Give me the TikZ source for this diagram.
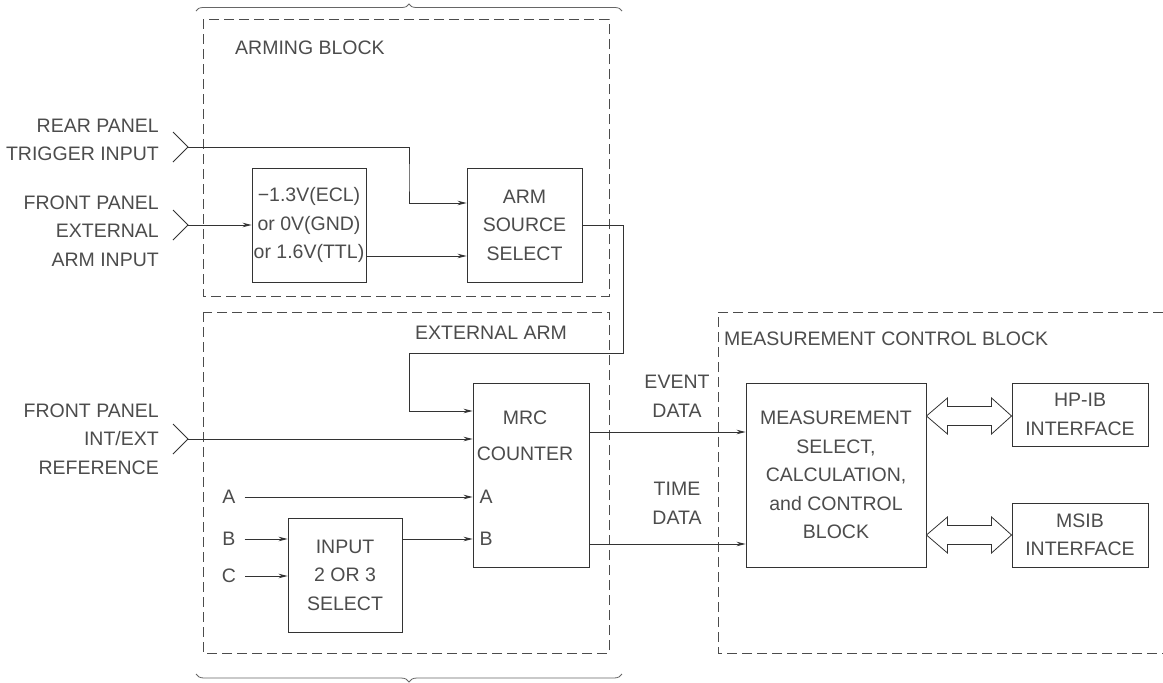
\documentclass[tikz,border=0pt]{standalone}
\usepackage{fontspec}
\setmainfont{Liberation Sans}
\usetikzlibrary{arrows.meta,calc,decorations.pathreplacing}

\tikzset{
  txtfont/.style={font=\fontsize{19.5}{28.5}\selectfont},
  blk/.style={draw=black!80, line width=0.9pt, inner sep=0pt, align=center,
              text=black!70, txtfont},
  lbl/.style={inner sep=0pt, text=black!70, txtfont},
  wire/.style={draw=black!80, line width=0.9pt},
  sig/.style={wire, -{Stealth[length=9pt,width=4.5pt]}},
  region/.style={draw=black!70, line width=0.8pt, dash pattern=on 10pt off 5pt},
  bus/.style={draw=black!80, line width=0.8pt, fill=white, line join=miter},
  bracket/.style={draw=black!60, line width=0.8pt, decorate,
                  decoration={brace, amplitude=#1}},
}

\begin{document}
\begin{tikzpicture}[x=1pt, y=-1pt]
  \useasboundingbox[fill=white] (0,0) rectangle (1163,683);

  % ---------- section outlines ----------
  \draw[region] (203,19) rectangle (609,296);
  \draw[region] (203,312) rectangle (609,653);
  \draw[region] (1163,312) -- (718,312) -- (718,653) -- (1163,653);

  \draw[bracket=7pt] (196,11) -- (622,11);
  \draw[bracket=8pt] (622,674) -- (196,674);

  \node[lbl, anchor=west] (armt) at (235,48) {ARMING BLOCK};
  \node[lbl, anchor=west] (extt) at (415,333) {EXTERNAL ARM};
  \node[lbl, anchor=west] (mct) at (724,339) {MEASUREMENT CONTROL BLOCK};

  % ---------- blocks ----------
  \node[blk, minimum width=114pt, minimum height=114pt] (volt) at (309,225)
       {−1.3V(ECL)\\or 0V(GND)\\or 1.6V(TTL)};
  \node[blk, minimum width=115pt, minimum height=114pt] (arm) at (524.5,225)
       {ARM\\SOURCE\\SELECT};
  \node[blk, minimum width=116pt, minimum height=184pt] (mrc) at (531,475) {};
  \node[lbl, align=center] (mrct) at (525,436) {MRC\\[7.5pt]COUNTER};
  \node[lbl] (mrca) at (486,497) {A};
  \node[lbl] (mrcb) at (486,539) {B};
  \node[blk, minimum width=114pt, minimum height=114pt] (inp) at (345,575)
       {INPUT\\2 OR 3\\SELECT};
  \node[blk, minimum width=180pt, minimum height=184pt] (ms) at (836,475)
       {MEASUREMENT\\SELECT,\\CALCULATION,\\and CONTROL\\BLOCK};
  \node[blk, minimum width=136pt, minimum height=63pt] (hp) at (1080,414.5)
       {HP-IB\\INTERFACE};
  \node[blk, minimum width=136pt, minimum height=64pt] (msib) at (1080,535)
       {MSIB\\INTERFACE};

  % ---------- external inputs ----------
  \node[lbl, align=right, anchor=east] (rear) at (159,140) {REAR PANEL\\TRIGGER INPUT};
  \node[lbl, align=right, anchor=east] (fext) at (159,231) {FRONT PANEL\\EXTERNAL\\ARM INPUT};
  \node[lbl, align=right, anchor=east] (fref) at (159,439) {FRONT PANEL\\INT/EXT\\REFERENCE};

  \coordinate (rtip) at (188,147);
  \coordinate (ftip) at (188,225);
  \coordinate (itip) at (188,439);
  \foreach \t in {rtip,ftip,itip}
    \draw[wire, line width=0.8pt] ([shift={(-15,-15)}]\t) -- (\t) -- ([shift={(-15,15)}]\t);

  \node[lbl, inner xsep=9pt] (ina) at (229,497) {A};
  \node[lbl, inner xsep=9pt] (inb) at (229,539) {B};
  \node[lbl, inner xsep=9pt] (inc) at (229,576) {C};

  \node[lbl, align=center] (ev) at (677,396.5) {EVENT\\DATA};
  \node[lbl, align=center] (tm) at (677,503.5) {TIME\\DATA};

  % ---------- signal paths ----------
  \draw[sig] (rtip) -| (409,180) |- ([yshift=22pt]arm.west);
  \draw[sig] (ftip) -- (volt.west);
  \draw[sig] ([yshift=-31pt]volt.east) -- ([yshift=-31pt]arm.west);
  \draw[sig] (arm.east) -| (623,353) -- (409,353) |- ([yshift=64pt]mrc.west);
  \draw[sig] (itip) -- ([yshift=36pt]mrc.west);
  \draw[sig] (ina.east) -- (ina.east -| mrc.west);
  \draw[sig] (inb.east) -- (inb.east -| inp.west);
  \draw[sig] (inc.east) -- (inc.east -| inp.west);
  \draw[sig] ([yshift=36pt]inp.east) -- ([yshift=-64pt]mrc.west);
  \draw[sig] ([yshift=43pt]mrc.east) -- ([yshift=43pt]ms.west);
  \draw[sig] ([yshift=-69pt]mrc.east) -- ([yshift=-69pt]ms.west);

  % ---------- bidirectional buses ----------
  \coordinate (b1a) at (ms.east |- 0,416);
  \coordinate (b1b) at (hp.west |- b1a);
  \coordinate (b2a) at (ms.east |- 0,535);
  \coordinate (b2b) at (msib.west |- b2a);
  \foreach \l/\r in {b1a/b1b, b2a/b2b}
    \draw[bus] (\l) -- ++(21,-18) -- ++(0,8.5) -- ($(\r)+(-20,-9.5)$)
      -- ++(0,-8.5) -- (\r) -- ++(-20,18) -- ++(0,-8.5)
      -- ($(\l)+(21,9.5)$) -- ++(0,8.5) -- cycle;
\end{tikzpicture}
\end{document}
